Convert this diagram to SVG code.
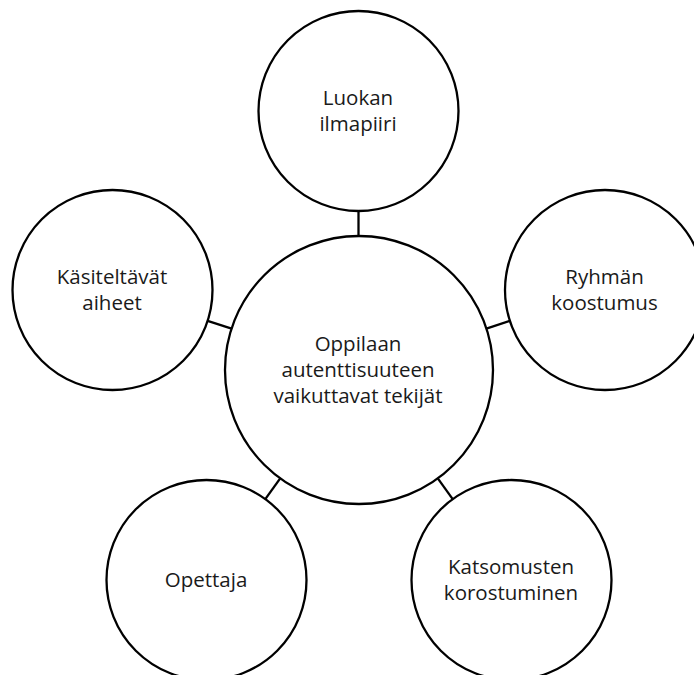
<svg xmlns="http://www.w3.org/2000/svg" width="694" height="675" viewBox="0 0 694 675">
<style>
.n{fill:#fff;stroke:#000;stroke-width:2.3}
.c{stroke:#000;stroke-width:2.3;fill:none}
text{font-family:"Open Sans","Liberation Sans",sans-serif;font-size:20.5px;fill:#1a1a1a;text-anchor:middle}
</style>
<rect width="694" height="675" fill="#fff"/>
<g id="connectors">
<line class="c" x1="358.5" y1="211" x2="358.5" y2="236"/>
<line class="c" x1="486.4" y1="328.6" x2="509.9" y2="320.9"/>
<line class="c" x1="231.6" y1="328.6" x2="207.6" y2="320.9"/>
<line class="c" x1="280.2" y1="478.4" x2="265.3" y2="499.1"/>
<line class="c" x1="437.8" y1="478.4" x2="452.7" y2="499.1"/>
</g>
<g id="center">
<circle class="n" cx="359" cy="370" r="134"/>
<text x="358" y="351">Oppilaan</text>
<text x="358" y="377">autenttisuuteen</text>
<text x="358" y="403">vaikuttavat tekijät</text>
</g>
<g id="top">
<circle class="n" cx="358.5" cy="111" r="100"/>
<text x="358" y="105">Luokan</text>
<text x="358" y="131">ilmapiiri</text>
</g>
<g id="right">
<circle class="n" cx="605" cy="290" r="100"/>
<text x="604.5" y="284">Ryhmän</text>
<text x="604.5" y="309.5">koostumus</text>
</g>
<g id="left">
<circle class="n" cx="112.5" cy="290" r="100"/>
<text x="112" y="284">Käsiteltävät</text>
<text x="112" y="309.5">aiheet</text>
</g>
<g id="bottomleft">
<circle class="n" cx="206.5" cy="580" r="100"/>
<text x="206" y="587">Opettaja</text>
</g>
<g id="bottomright">
<circle class="n" cx="511.5" cy="580" r="100"/>
<text x="511" y="573.5">Katsomusten</text>
<text x="511" y="599.5">korostuminen</text>
</g>
</svg>
